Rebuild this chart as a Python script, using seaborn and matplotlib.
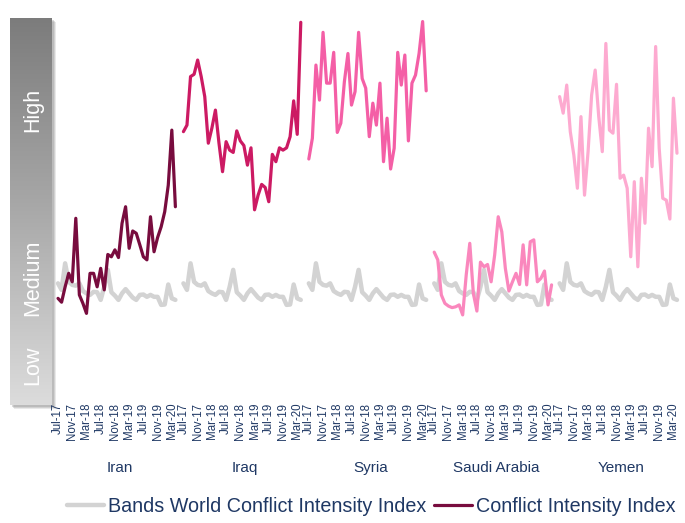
import numpy as np
import pandas as pd
import matplotlib
matplotlib.use("Agg")
import matplotlib.pyplot as plt
import seaborn as sns
from matplotlib.lines import Line2D
from matplotlib.patches import Rectangle
from matplotlib.colors import LinearSegmentedColormap

sns.set_theme(style="white")
plt.rcParams['font.family'] = ['Liberation Sans', 'DejaVu Sans']

# ---------------- data ----------------
months = list(pd.date_range("2017-07-01", periods=34, freq="MS").strftime("%b-%y"))
tick_labels = ["Jul-17", "Nov-17", "Mar-18", "Jul-18", "Nov-18",
               "Mar-19", "Jul-19", "Nov-19", "Mar-20"]
countries = ["Iran", "Iraq", "Syria", "Saudi Arabia", "Yemen"]
colors = ["#780c3e", "#cc1a63", "#f45fa6", "#fa87bd", "#fdaad0"]
world_color = "#d3d3d3"

world = [30.3, 28.6, 35.5, 30.7, 29.9, 29.7, 30.3, 28.3, 27.7, 27.3, 28.1, 28.0,
         26.0, 29.4, 33.8, 28.0, 27.1, 26.0, 27.7, 28.8, 27.7, 26.6, 26.0, 27.3,
         27.4, 26.8, 27.3, 26.8, 26.8, 24.7, 24.8, 30.0, 26.4, 26.0]
iran = [26.4, 25.4, 29.4, 32.9, 30.7, 47.2, 27.3, 25.1, 22.5, 32.9, 32.9, 29.4,
        34.2, 28.6, 37.8, 37.2, 39.0, 37.0, 45.9, 50.2, 39.4, 43.9, 43.3, 40.3,
        37.2, 36.4, 47.6, 38.5, 42.2, 45.0, 48.9, 55.8, 70.1, 50.2]
iraq = [69.7, 71.4, 84.0, 84.6, 88.3, 84.0, 78.8, 66.7, 70.6, 75.3, 66.7, 59.3,
        67.1, 64.9, 64.3, 69.9, 67.3, 66.1, 61.0, 65.5, 49.4, 53.2, 56.0, 55.2,
        51.5, 63.8, 61.9, 65.5, 64.9, 65.5, 68.4, 77.7, 69.0, 98.1]
syria = [62.6, 68.0, 87.0, 77.9, 95.5, 82.3, 82.3, 90.3, 69.5, 71.9, 82.7, 90.0,
         76.6, 80.1, 95.5, 83.5, 81.0, 68.4, 77.1, 71.4, 82.3, 61.9, 73.2, 60.0,
         65.4, 90.3, 81.8, 89.6, 67.3, 82.3, 84.4, 90.0, 98.3, 80.3]
saudi = [38.4, 36.4, 27.3, 25.1, 24.4, 24.0, 24.2, 24.7, 22.1, 32.5, 40.7, 27.7,
         23.1, 35.8, 34.6, 35.2, 30.7, 37.7, 47.6, 43.7, 34.2, 28.3, 30.7, 32.9,
         30.0, 40.3, 29.9, 41.1, 41.6, 30.7, 31.6, 33.5, 24.7, 29.9]
yemen = [78.8, 74.5, 81.8, 69.7, 63.6, 55.0, 73.6, 53.2, 64.5, 79.2, 85.7, 73.6,
         64.5, 92.6, 70.1, 69.3, 82.0, 57.6, 58.4, 55.0, 37.2, 56.7, 34.6, 57.6,
         45.9, 70.6, 60.6, 91.8, 65.4, 52.4, 51.9, 47.0, 78.4, 64.1]
series = [iran, iraq, syria, saudi, yemen]

text_color = "#1f3864"

# ---------------- figure ----------------
W, H = 685, 523
fig = plt.figure(figsize=(W / 100, H / 100), dpi=100)

def fx(px):
    return px / W

def fy(py):
    return (H - py) / H

# gradient scale bar on the left
bar_l, bar_r, bar_t, bar_b = 10, 52, 18, 405
for off, a in [(4, 0.18), (3, 0.25), (2, 0.3)]:
    shadow = Rectangle((fx(bar_l + off), fy(bar_b + off)), fx(bar_r - bar_l), (bar_b - bar_t) / H,
                       transform=fig.transFigure, facecolor="#8a8a8a", alpha=a,
                       edgecolor="none", zorder=-5)
    fig.patches.append(shadow)
bax = fig.add_axes([fx(bar_l), fy(bar_b), fx(bar_r - bar_l), (bar_b - bar_t) / H])
bax.set_zorder(1)
cmap = LinearSegmentedColormap.from_list("g", ["#dcdcdc", "#a9a9a9", "#7c7c7c"])
grad = np.linspace(0, 1, 256).reshape(-1, 1)
bax.imshow(grad, aspect="auto", cmap=cmap, origin="lower", extent=[0, 1, 0, 1])
bax.set_axis_off()
for label, yc in [("High", 110), ("Medium", 278), ("Low", 365)]:
    bax.text(0.55, (bar_b - yc) / (bar_b - bar_t), label, rotation=90,
             ha="center", va="center", color="white", fontsize=15.5,
             transform=bax.transAxes)

# panels
left0, pitch = 54, 125.4
top, bottom = 15, 400
xidx = np.arange(len(months))
tick_pos = [months.index(t) for t in tick_labels]

for i, (country, vals, col) in enumerate(zip(countries, series, colors)):
    ax = fig.add_axes([fx(left0 + i * pitch), fy(bottom), fx(pitch), (bottom - top) / H])
    ax.set_zorder(2)
    df = pd.DataFrame({"idx": xidx, "month": months, "world": world, "value": vals})
    sns.lineplot(data=df, x="idx", y="world", ax=ax, color=world_color,
                 linewidth=3.2, estimator=None, sort=False)
    sns.lineplot(data=df, x="idx", y="value", ax=ax, color=col,
                 linewidth=2.3, estimator=None, sort=False)
    ax.set_xlim(-1.13, len(months) - 1 + 1.13)
    ax.set_ylim(0, 100)
    ax.set_xticks(tick_pos)
    ax.set_xticklabels(tick_labels, rotation=90, fontsize=8.3, color=text_color)
    ax.tick_params(axis="x", length=0, pad=2)
    ax.set_yticks([])
    ax.set_xlabel("")
    ax.set_ylabel("")
    for s in ax.spines.values():
        s.set_visible(False)
    ax.patch.set_alpha(0)
    fig.text(fx(left0 + i * pitch + pitch / 2 + 3), fy(468), country, ha="center",
             va="center", fontsize=11, color=text_color)

handles = [Line2D([], [], color=world_color, lw=3.2),
           Line2D([], [], color=colors[0], lw=2.3)]
fig.legend(handles, ["Bands World Conflict Intensity Index", "Conflict Intensity Index"],
           loc="center", bbox_to_anchor=(fx(371), fy(506)), ncol=2, frameon=False,
           fontsize=14.2, handlelength=1.9, handletextpad=0.2, columnspacing=0.4,
           labelcolor=text_color, borderpad=0)

fig.savefig("out.png", dpi=100)
